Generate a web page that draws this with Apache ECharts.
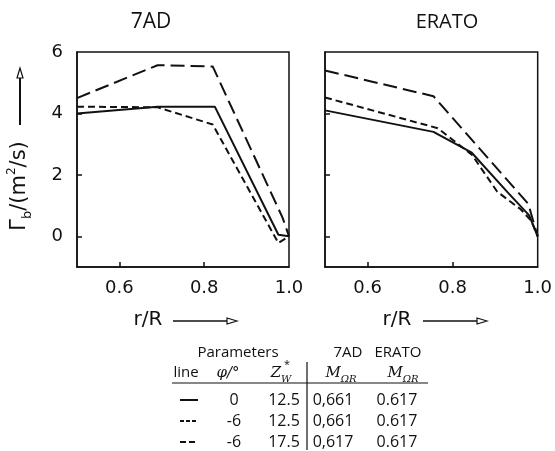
<!DOCTYPE html>
<html>
<head>
<meta charset="utf-8">
<script src="https://cdn.jsdelivr.net/npm/echarts@6/dist/echarts.min.js"></script>
<style>
  html, body { margin: 0; padding: 0; background: #fff; }
  #chart { width: 555px; height: 451px; }
</style>
</head>
<body>
<div id="chart"></div>
<script>
// panel titles
var panelTitles = ["7AD", "ERATO"];
// tick labels
var xTicks = [0.6, 0.8, 1.0];
var yTicks = [0, 2, 4, 6];

// 7AD panel, [r/R, Gamma_b]
var solid7AD = [[0.5, 4.0], [0.69, 4.22], [0.825, 4.22], [0.975, 0.05], [1.0, 0]];
var short7AD = [[0.5, 4.22], [0.69, 4.2], [0.82, 3.64], [0.975, -0.22], [1.0, 0]];
var long7AD = [[0.5, 4.5], [0.69, 5.57], [0.82, 5.53], [0.985, 0.6], [1.0, 0]];

// ERATO panel
var solidERATO = [[0.5, 4.1], [0.755, 3.4], [0.845, 2.72], [0.93, 1.42], [0.98, 0.68], [1.0, 0]];
var shortERATO = [[0.5, 4.52], [0.765, 3.52], [0.845, 2.66], [0.905, 1.45], [0.96, 0.88], [0.985, 0.5], [1.0, 0]];
var longERATO = [[0.5, 5.4], [0.755, 4.56], [0.978, 1.05], [1.0, 0]];

// table below the plots
var tablePhi = ["0", "-6", "-6"];
var tableZ = ["12.5", "12.5", "17.5"];
var table7AD = ["0,661", "0,661", "0,617"];
var tableERATO = ["0.617", "0.617", "0.617"];

var ink = "#111";
var tickFont = "DejaVu Sans";
var textFont = "Open Sans";

var chart = echarts.init(document.getElementById("chart"));

function xAxisFor(i) {
  return {
    type: "value", gridIndex: i, min: 0.5, max: 1.0,
    axisLine: { show: true, onZero: false, lineStyle: { color: ink, width: 1.5 } },
    axisTick: { show: true, inside: true, length: 5, customValues: [0.6, 0.8], lineStyle: { color: ink, width: 1.5 } },
    axisLabel: {
      customValues: xTicks, margin: 12, color: ink, fontSize: 18, fontFamily: tickFont,
      formatter: function (v) { return v.toFixed(1); }
    },
    splitLine: { show: false }
  };
}

function yAxisFor(i) {
  return {
    type: "value", gridIndex: i, min: -1, max: 6,
    axisLine: { show: true, onZero: false, lineStyle: { color: ink, width: 1.5 } },
    axisTick: { show: true, inside: true, length: 5, customValues: [0, 2, 4], lineStyle: { color: ink, width: 1.5 } },
    axisLabel: {
      show: i === 0, customValues: yTicks, margin: 14, color: ink, fontSize: 18, fontFamily: tickFont
    },
    splitLine: { show: false }
  };
}

function line(name, data, i, type) {
  return {
    name: name, type: "line", xAxisIndex: i, yAxisIndex: i,
    data: data, symbol: "none", silent: true,
    lineStyle: { color: ink, width: 2, type: type }
  };
}

function txt(x, y, text, size, extra) {
  var style = {
    x: x, y: y, text: text, fill: ink,
    font: (size || 15) + "px '" + textFont + "'",
    textAlign: "center", textVerticalAlign: "middle"
  };
  for (var k in extra) style[k] = extra[k];
  return { type: "text", style: style, silent: true };
}

var mathRich = {
  m: { fontFamily: "DejaVu Serif", fontStyle: "italic", fontSize: 15, lineHeight: 22, verticalAlign: "middle", fill: ink },
  s: { fontFamily: "DejaVu Serif", fontStyle: "italic", fontSize: 10, lineHeight: 22, verticalAlign: "bottom", fill: ink }
};

var graphics = [];
// panel titles
graphics.push(txt(151, 22, panelTitles[0], 21));
graphics.push(txt(447, 22, panelTitles[1], 20));

// y axis name with arrow
graphics.push({
  type: "text", x: 20, y: 186, rotation: Math.PI / 2, silent: true,
  style: {
    text: "{g|Γ}{b|b}{g|/(m}{p|2}{g|/s)}",
    textAlign: "center", textVerticalAlign: "middle",
    rich: {
      g: { fontFamily: tickFont, fontSize: 21, lineHeight: 28, verticalAlign: "middle", fill: ink },
      b: { fontFamily: tickFont, fontSize: 13, lineHeight: 28, verticalAlign: "bottom", fill: ink },
      p: { fontFamily: tickFont, fontSize: 12, lineHeight: 28, verticalAlign: "top", fill: ink }
    }
  }
});
graphics.push({ type: "line", silent: true, shape: { x1: 20, y1: 125, x2: 20, y2: 77 }, style: { stroke: ink, lineWidth: 2 } });
graphics.push({ type: "polygon", silent: true, shape: { points: [[20, 68], [17, 78], [23, 78]] }, style: { fill: "#fff", stroke: ink, lineWidth: 1.2 } });

// x axis names with arrows
[[148, 173], [397, 423]].forEach(function (p) {
  graphics.push(txt(p[0], 320, "r/R", 20, { font: "20px '" + tickFont + "'" }));
  graphics.push({ type: "line", silent: true, shape: { x1: p[1], y1: 321, x2: p[1] + 54, y2: 321 }, style: { stroke: ink, lineWidth: 1.5 } });
  graphics.push({ type: "polygon", silent: true, shape: { points: [[p[1] + 64, 321], [p[1] + 54, 318], [p[1] + 54, 324]] }, style: { fill: "#fff", stroke: ink, lineWidth: 1.2 } });
});

// table header
graphics.push(txt(238, 353, "Parameters", 15));
graphics.push(txt(348, 353, "7AD", 15));
graphics.push(txt(398, 353, "ERATO", 15));
graphics.push(txt(186, 373, "line", 15));
graphics.push(txt(228, 373, "φ/°", 15, { font: "italic 15px 'DejaVu Serif'" }));
graphics.push({
  type: "text", silent: true,
  style: { x: 281, y: 373, text: "{m|Z}{s|W}", textAlign: "center", textVerticalAlign: "middle", rich: mathRich }
});
graphics.push(txt(287, 365, "*", 11));
graphics.push({
  type: "text", silent: true,
  style: { x: 341, y: 373, text: "{m|M}{s|ΩR}", textAlign: "center", textVerticalAlign: "middle", rich: mathRich }
});
graphics.push({
  type: "text", silent: true,
  style: { x: 403, y: 373, text: "{m|M}{s|ΩR}", textAlign: "center", textVerticalAlign: "middle", rich: mathRich }
});
graphics.push({ type: "line", silent: true, shape: { x1: 172, y1: 383, x2: 428, y2: 383 }, style: { stroke: ink, lineWidth: 1.2 } });
graphics.push({ type: "line", silent: true, shape: { x1: 307, y1: 362, x2: 307, y2: 450 }, style: { stroke: ink, lineWidth: 1.2 } });

// table rows
var rowY = [400, 421, 442];
var sampleDash = [null, [4, 2], [6, 3]];
rowY.forEach(function (y, i) {
  graphics.push({
    type: "line", silent: true,
    shape: { x1: 180, y1: y, x2: 198, y2: y },
    style: { stroke: ink, lineWidth: 2, lineDash: sampleDash[i] }
  });
  graphics.push(txt(234, y, tablePhi[i], 16));
  graphics.push(txt(284, y, tableZ[i], 16));
  graphics.push(txt(333, y, table7AD[i], 16));
  graphics.push(txt(397, y, tableERATO[i], 16));
});

chart.setOption({
  backgroundColor: "#fff",
  animation: false,
  grid: [
    { left: 77, top: 52, width: 212, height: 215, show: true, borderColor: ink, borderWidth: 1.5 },
    { left: 325, top: 52, width: 213, height: 215, show: true, borderColor: ink, borderWidth: 1.5 }
  ],
  xAxis: [xAxisFor(0), xAxisFor(1)],
  yAxis: [yAxisFor(0), yAxisFor(1)],
  series: [
    line("solid 7AD", solid7AD, 0, "solid"),
    line("short 7AD", short7AD, 0, [7, 4]),
    line("long 7AD", long7AD, 0, [14, 6]),
    line("solid ERATO", solidERATO, 1, "solid"),
    line("short ERATO", shortERATO, 1, [7, 4]),
    line("long ERATO", longERATO, 1, [14, 6])
  ],
  graphic: graphics
});
</script>
</body>
</html>
